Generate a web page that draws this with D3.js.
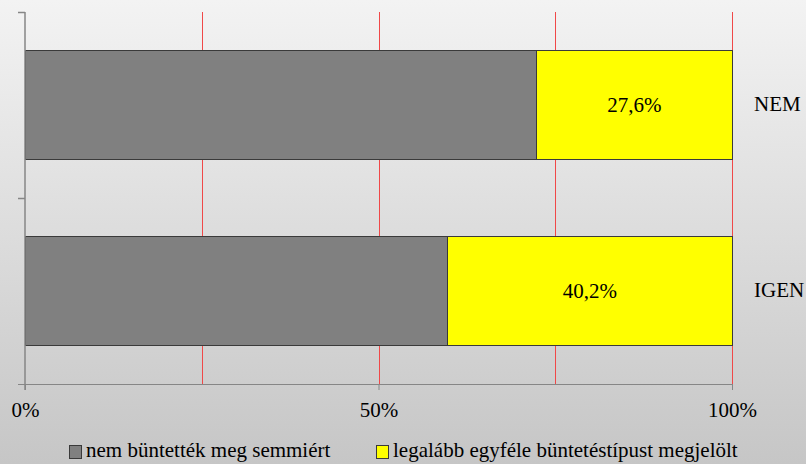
<!DOCTYPE html>
<html><head><meta charset="utf-8">
<script src="https://cdn.jsdelivr.net/npm/d3@7"></script>
<style>html,body{margin:0;padding:0;}svg{display:block;}</style>
</head><body>
<script>
const categories = ["NEM", "IGEN"];
const seriesNames = ["nem büntették meg semmiért", "legalább egyféle büntetéstípust megjelölt"];
const grayValues = [72.4, 59.8];
const yellowValues = [27.6, 40.2];
const yellowLabels = ["27,6%", "40,2%"];
const xTicks = [0, 50, 100];
const xTickLabels = ["0%", "50%", "100%"];
const gridValues = [25, 50, 75, 100];
const colors = ["#808080", "#ffff00"];

const W = 806, H = 464;
const font = "Liberation Serif";
const fs = 21;
const svg = d3.select("body").append("svg").attr("width", W).attr("height", H);
const defs = svg.append("defs");
const lg = defs.append("linearGradient").attr("id", "bg").attr("x1", 0).attr("y1", 0).attr("x2", 0).attr("y2", 1);
lg.append("stop").attr("offset", "0%").attr("stop-color", "#f3f3f3");
lg.append("stop").attr("offset", "100%").attr("stop-color", "#c6c6c6");
svg.append("rect").attr("width", W).attr("height", H).attr("fill", "url(#bg)");

const x = d3.scaleLinear().domain([0, 100]).range([25, 732]);
const y = d3.scaleBand().domain(categories).range([12, 384]).paddingInner(0.41).paddingOuter(0.205);

// gridlines
svg.append("g").selectAll("line").data(gridValues).join("line")
  .attr("x1", d => Math.round(x(d)) + 0.5).attr("x2", d => Math.round(x(d)) + 0.5).attr("y1", 12).attr("y2", 384)
  .attr("stroke", "#f04848").attr("stroke-width", 1);

// bars
const stacks = categories.map((c, i) => [
  {c, x0: 0, x1: grayValues[i], color: colors[0]},
  {c, x0: grayValues[i], x1: grayValues[i] + yellowValues[i], color: colors[1]}
]).flat();
svg.append("g").selectAll("rect").data(stacks).join("rect")
  .attr("x", d => x(d.x0)).attr("width", d => x(d.x1) - x(d.x0))
  .attr("y", d => y(d.c)).attr("height", y.bandwidth())
  .attr("fill", d => d.color).attr("stroke", "#3a3a3a").attr("stroke-width", 1)
  .attr("shape-rendering", "crispEdges");

// yellow labels
svg.append("g").selectAll("text").data(categories).join("text")
  .attr("x", (c, i) => (x(grayValues[i]) + x(100)) / 2)
  .attr("y", c => y(c) + y.bandwidth() / 2 + 7)
  .attr("text-anchor", "middle").style("font-family", font).style("font-size", fs + "px").attr("fill", "#000")
  .text((c, i) => yellowLabels[i]);

// category labels on the right
svg.append("g").selectAll("text").data(categories).join("text")
  .attr("x", 754).attr("y", c => y(c) + y.bandwidth() / 2 + 6)
  .style("font-family", font).style("font-size", fs + "px").attr("fill", "#000")
  .text(c => c);

// axes
const axisColor = "#868686";
const xAxis = svg.append("g").attr("transform", "translate(0,384)")
  .call(d3.axisBottom(x).tickValues(xTicks).tickFormat((d, i) => xTickLabels[i]).tickSize(6).tickPadding(14));
xAxis.attr("font-family", null).attr("font-size", null);
xAxis.select(".domain").attr("stroke", axisColor).attr("d", "M18,0.5H732");
xAxis.selectAll(".tick line").attr("stroke", axisColor);
xAxis.selectAll("text").style("font-family", font).style("font-size", fs + "px").attr("fill", "#000").attr("dy", "0.6em");

const yAxisG = svg.append("g");
yAxisG.append("line").attr("x1", 25).attr("x2", 25).attr("y1", 12).attr("y2", 390)
  .attr("stroke", axisColor).attr("stroke-width", 1.5);
yAxisG.selectAll("line.t").data([12, 198]).join("line").attr("class", "t")
  .attr("x1", 18).attr("x2", 25).attr("y1", d => d + 0.5).attr("y2", d => d + 0.5)
  .attr("stroke", axisColor).attr("stroke-width", 1.5);

// legend
const legendX = [69, 376];
const lgG = svg.append("g");
seriesNames.forEach((n, i) => {
  lgG.append("rect").attr("x", legendX[i] + 0.5).attr("y", 445.5).attr("width", 12).attr("height", 13)
    .attr("fill", colors[i]).attr("stroke", "#3a3a3a");
  lgG.append("text").attr("x", legendX[i] + 17).attr("y", 457)
    .style("font-family", font).style("font-size", fs + "px").attr("fill", "#000").text(n);
});
</script>
</body></html>
